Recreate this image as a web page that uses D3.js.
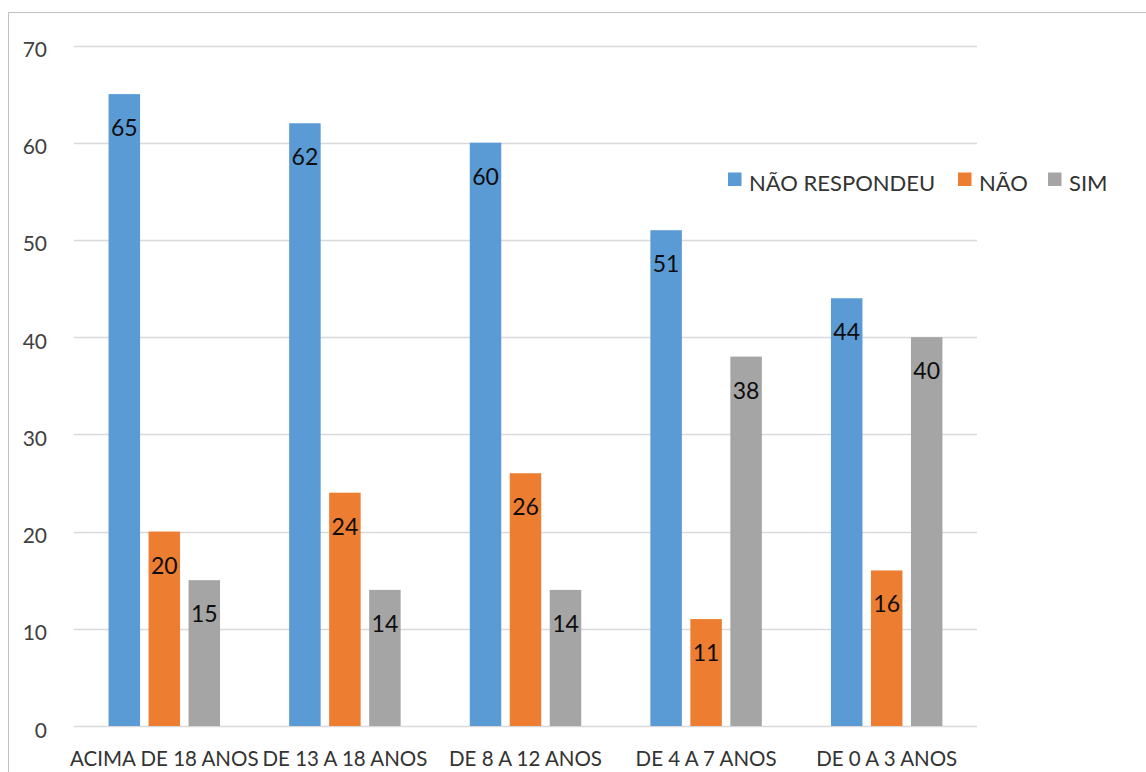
<!DOCTYPE html>
<html><head><meta charset="utf-8">
<script src="https://cdn.jsdelivr.net/npm/d3@7"></script>
<style>body{margin:0;background:#fff}svg{display:block}text{font-family:Lato,"Noto Sans",sans-serif}</style>
</head><body><svg id="c" width="1146" height="772"></svg>
<script>
const categories = ["ACIMA DE 18 ANOS","DE 13 A 18 ANOS","DE 8 A 12 ANOS","DE 4 A 7 ANOS","DE 0 A 3 ANOS"];
const seriesNames = ["NÃO RESPONDEU","NÃO","SIM"];
const naoRespondeu = [65,62,60,51,44];
const nao = [20,24,26,11,16];
const sim = [15,14,14,38,40];
const yTicks = [0,10,20,30,40,50,60,70];
const colors = ["#5b9bd5","#ed7d31","#a5a5a5"];

const seriesValues = [naoRespondeu, nao, sim];
const svg = d3.select("#c");
const pLeft = 74, pRight = 977, pTop = 45.5, pBottom = 726;

// frame
svg.append("line").attr("x1",8.5).attr("x2",1146).attr("y1",12.5).attr("y2",12.5).attr("stroke","#c0c0c0").attr("stroke-width",1);
svg.append("line").attr("x1",8.5).attr("x2",8.5).attr("y1",12.5).attr("y2",772).attr("stroke","#c0c0c0").attr("stroke-width",1);

const x0 = d3.scaleBand().domain(categories).range([pLeft,pRight]).paddingInner(0).paddingOuter(0);
const x1 = d3.scaleBand().domain(seriesNames).range([0,x0.bandwidth()]).paddingInner(0.2125).paddingOuter(0.864);
const y = d3.scaleLinear().domain([0,70]).range([pBottom,pTop]);

// gridlines
svg.append("g").selectAll("line").data(yTicks).join("line")
  .attr("x1",pLeft).attr("x2",pRight)
  .attr("y1",d=>Math.round(y(d))+0.5).attr("y2",d=>Math.round(y(d))+0.5)
  .attr("stroke","#d9d9d9").attr("stroke-width",1.5);

// y labels
svg.append("g").selectAll("text").data(yTicks).join("text")
  .attr("x",47).attr("y",d=>y(d)+3).attr("text-anchor","end").attr("dominant-baseline","central")
  .attr("font-size",21).attr("fill","#404040").text(d=>d);

// bars
const rows = [];
categories.forEach((c,i)=>seriesNames.forEach((s,j)=>rows.push({c,s,j,v:seriesValues[j][i]})));
svg.append("g").selectAll("rect").data(rows).join("rect")
  .attr("x",d=>x0(d.c)+x1(d.s)).attr("width",x1.bandwidth())
  .attr("y",d=>y(d.v)).attr("height",d=>y(0)-y(d.v))
  .attr("fill",d=>colors[d.j]);

// value labels
svg.append("g").selectAll("text").data(rows).join("text")
  .attr("x",d=>x0(d.c)+x1(d.s)+x1.bandwidth()/2).attr("y",d=>y(d.v)+42)
  .attr("text-anchor","middle").attr("font-size",23).attr("fill","#0d0d0d").text(d=>d.v);

// category labels
svg.append("g").selectAll("text").data(categories).join("text")
  .attr("x",d=>x0(d)+x0.bandwidth()/2).attr("y",765.5).attr("text-anchor","middle")
  .attr("font-size",20.5).attr("fill","#333333").text(d=>d);

// legend
const legX = [728,958,1048];
const lg = svg.append("g").selectAll("g").data(seriesNames).join("g")
  .attr("transform",(d,i)=>`translate(${legX[i]},0)`);
lg.append("rect").attr("x",0).attr("y",172.5).attr("width",13.5).attr("height",13.5).attr("fill",(d,i)=>colors[i]);
lg.append("text").attr("x",21).attr("y",190.5).attr("font-size",22).attr("fill","#333333").text(d=>d);
</script></body></html>
